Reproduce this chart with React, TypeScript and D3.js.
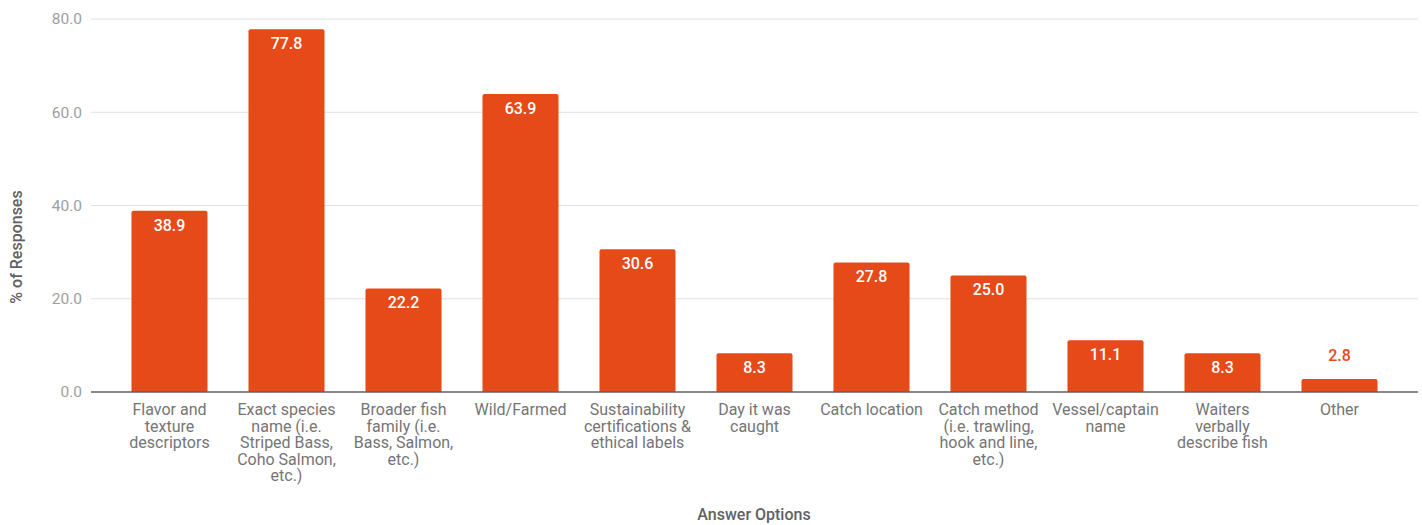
import React from "react";
import * as d3 from "d3";

// Survey answers: what information diners want to see about seafood
const categories: string[] = [
  "Flavor and\ntexture\ndescriptors",
  "Exact species\nname (i.e.\nStriped Bass,\nCoho Salmon,\netc.)",
  "Broader fish\nfamily (i.e.\nBass, Salmon,\netc.)",
  "Wild/Farmed",
  "Sustainability\ncertifications &\nethical labels",
  "Day it was\ncaught",
  "Catch location",
  "Catch method\n(i.e. trawling,\nhook and line,\netc.)",
  "Vessel/captain\nname",
  "Waiters\nverbally\ndescribe fish",
  "Other",
];

const responses: number[] = [38.9, 77.8, 22.2, 63.9, 30.6, 8.3, 27.8, 25.0, 11.1, 8.3, 2.8];

const yTicks: number[] = [0, 20, 40, 60, 80];

const W = 1422;
const H = 525;
const gridLeft = 91;
const gridRight = 1418;
const top = 19;
const bottom = 392;
const barColor = "#E64A19";
const font = "Roboto, 'Noto Sans', Arial, sans-serif";

export default function App() {
  const x = d3
    .scaleBand<string>()
    .domain(categories)
    .range([111, 1398])
    .paddingInner(0.35)
    .paddingOuter(0.175);
  const y = d3.scaleLinear().domain([0, 80]).range([bottom, top]);

  return (
    <svg
      width={W}
      height={H}
      style={{ position: "absolute", left: 0, top: 0, background: "#fff" }}
      fontFamily={font}
    >
      {yTicks.map((t) => (
        <g key={t}>
          {t !== 0 && (
            <line x1={gridLeft} x2={gridRight} y1={y(t)} y2={y(t)} stroke="#e0e0e0" strokeWidth={1} />
          )}
          <text x={82} y={y(t)} dy="0.35em" textAnchor="end" fontSize={15.5} fill="#9e9e9e">
            {t.toFixed(1)}
          </text>
        </g>
      ))}

      {categories.map((c, i) => {
        const v = responses[i];
        const bx = x(c)!;
        const bw = x.bandwidth();
        const by = y(v);
        const bh = bottom - by;
        const cx = bx + bw / 2;
        const inside = bh > 24;
        const r = Math.min(2, bh / 2);
        const path = `M${bx},${bottom}V${by + r}Q${bx},${by} ${bx + r},${by}H${bx + bw - r}Q${bx + bw},${by} ${bx + bw},${by + r}V${bottom}Z`;
        return (
          <g key={c}>
            <path d={path} fill={barColor} />
            <text
              x={cx}
              y={inside ? by + 20 : by - 18}
              textAnchor="middle"
              fontSize={16}
              fontWeight={500}
              fill={inside ? "#ffffff" : barColor}
            >
              {v.toFixed(1)}
            </text>
            {c.split("\n").map((line, k) => (
              <text
                key={k}
                x={cx}
                y={415 + k * 16.6}
                textAnchor="middle"
                fontSize={16}
                fill="#757575"
              >
                {line}
              </text>
            ))}
          </g>
        );
      })}

      <line x1={gridLeft} x2={gridRight} y1={bottom} y2={bottom} stroke="#616161" strokeWidth={1.5} />

      <text
        transform={`translate(22,${247}) rotate(-90)`}
        textAnchor="middle"
        fontSize={16}
        fontWeight={500}
        fill="#616161"
      >
        % of Responses
      </text>
      <text x={754} y={520} textAnchor="middle" fontSize={16} fontWeight={500} fill="#616161">
        Answer Options
      </text>
    </svg>
  );
}
